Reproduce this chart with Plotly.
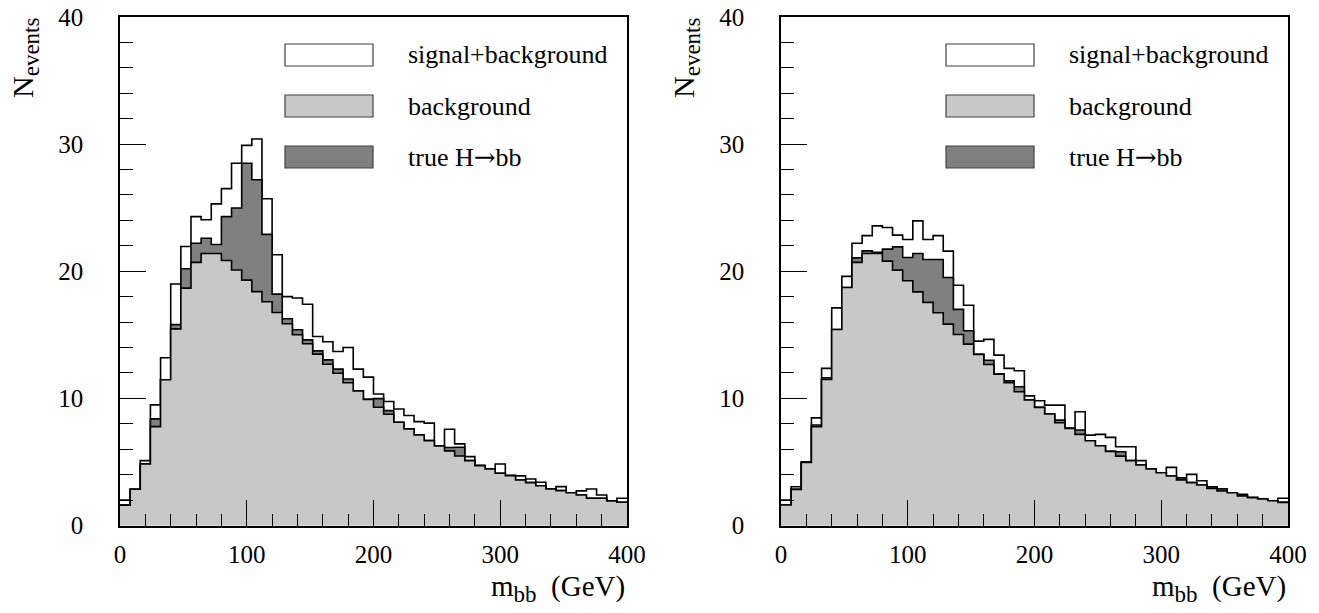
import numpy as np
import plotly.graph_objects as go

# ---------------- data ----------------
bin_width = 8.0          # GeV
n_bins = 50
bin_edges = np.arange(n_bins + 1) * bin_width  # 0 .. 400 GeV

# left panel
left_sig_plus_bkg = [2.0, 2.85, 5.1, 9.49, 13.2, 19.0, 21.95, 24.3, 24.05, 25.3,
                     26.5, 28.5, 29.9, 30.4, 25.7, 21.3, 18.0, 17.9, 17.4, 14.87,
                     14.45, 13.69, 14.0, 12.3, 11.67, 10.35, 9.75, 9.17, 8.65, 8.17,
                     8.05, 6.26, 7.57, 6.42, 5.42, 4.71, 4.45, 4.84, 3.92, 3.9,
                     3.66, 3.4, 2.87, 3.06, 2.58, 2.72, 2.87, 2.4, 1.93, 2.14]
left_bkg_plus_trueH = [1.6, 2.85, 4.84, 8.39, 11.46, 15.8, 20.2, 22.2, 22.6, 22.1,
                       24.3, 24.97, 28.5, 27.2, 22.9, 18.2, 16.26, 15.4, 14.6, 13.74,
                       13.03, 12.3, 11.52, 10.59, 9.92, 9.98, 9.04, 8.12, 7.6, 7.13,
                       6.68, 6.26, 6.13, 6.16, 5.1, 4.71, 4.45, 4.11, 3.92, 3.58,
                       3.37, 3.13, 2.87, 2.74, 2.58, 2.4, 2.14, 2.14, 1.93, 1.83]
left_bkg = [1.6, 2.85, 4.84, 7.78, 11.46, 15.47, 18.67, 20.7, 21.4, 21.4,
            20.85, 20.1, 19.3, 18.4, 17.6, 16.75, 15.87, 15.0, 14.3, 13.48,
            12.69, 11.98, 11.23, 10.59, 9.92, 9.3, 8.75, 8.12, 7.6, 7.13,
            6.68, 6.26, 5.87, 5.47, 5.1, 4.71, 4.45, 4.11, 3.92, 3.58,
            3.37, 3.13, 2.87, 2.74, 2.58, 2.4, 2.14, 2.14, 1.93, 1.83]

# right panel
right_sig_plus_bkg = [2.0, 3.05, 5.02, 8.47, 12.36, 17.12, 19.6, 22.2, 22.8, 23.57,
                      23.44, 22.84, 22.5, 23.96, 22.5, 22.8, 21.58, 18.9, 17.33, 14.5,
                      14.64, 13.4, 12.36, 12.17, 10.2, 9.81, 9.47, 9.47, 7.64, 8.95,
                      7.11, 7.17, 6.93, 6.2, 6.2, 5.1, 4.44, 4.15, 4.57, 3.76,
                      4.02, 3.52, 3.05, 2.87, 2.58, 2.45, 2.19, 2.08, 1.95, 2.14]
right_bkg_plus_trueH = [1.61, 2.84, 4.95, 7.9, 11.62, 15.42, 18.72, 21.05, 21.6, 21.5,
                        21.74, 21.92, 21.08, 21.4, 20.93, 20.93, 19.51, 17.0, 15.32, 13.46,
                        13.0, 11.91, 11.38, 10.91, 9.87, 9.29, 8.77, 8.29, 7.64, 7.51,
                        6.67, 6.27, 5.83, 5.8, 5.1, 4.76, 4.44, 4.15, 3.89, 3.65,
                        3.37, 3.18, 2.92, 2.87, 2.58, 2.32, 2.19, 2.08, 1.95, 1.82]
right_bkg = [1.61, 2.84, 4.95, 7.77, 11.49, 15.42, 18.72, 20.7, 21.4, 21.4,
             20.8, 20.09, 19.25, 18.38, 17.55, 16.73, 15.84, 15.03, 14.27, 13.46,
             12.67, 11.91, 11.23, 10.52, 9.87, 9.29, 8.77, 8.08, 7.64, 7.17,
             6.67, 6.27, 5.83, 5.46, 5.1, 4.76, 4.44, 4.15, 3.89, 3.58,
             3.37, 3.18, 2.92, 2.71, 2.58, 2.32, 2.19, 2.08, 1.95, 1.82]

legend_labels = ["signal+background", "background",
                 "true H<span style='font-family:DejaVu Serif'>\u2192</span>bb"]
x_title = "m<sub><span style='font-size:23px'>bb</span></sub>&nbsp; (GeV)"
y_title = "N<sub><span style='font-size:23px'>events</span></sub>"
x_tick_vals = [0, 100, 200, 300, 400]
y_tick_vals = [0, 10, 20, 30, 40]

# ---------------- style ----------------
W, H = 1319, 613
FONT = "Liberation Serif, Times New Roman, serif"
COL_SB = "white"
COL_BG = "#c8c8c8"
COL_H = "#808080"
fills = [COL_SB, COL_BG, COL_H]


def px_x(p):
    return p / W


def px_y(p):
    return 1 - p / H


panels = [
    dict(left=120, right=627, sb=left_sig_plus_bkg, bgh=left_bkg_plus_trueH, bg=left_bkg),
    dict(left=781, right=1288, sb=right_sig_plus_bkg, bgh=right_bkg_plus_trueH, bg=right_bkg),
]
top_px, bot_px = 17, 525.5

fig = go.Figure()
shapes = []
annotations = []

for i, p in enumerate(panels):
    xa = "x" if i == 0 else "x2"
    ya = "y" if i == 0 else "y2"
    for vals, col in [(p["sb"], COL_SB), (p["bgh"], COL_H), (p["bg"], COL_BG)]:
        yv = list(vals) + [vals[-1]]
        fig.add_trace(go.Scatter(
            x=bin_edges, y=yv, mode="lines", line=dict(shape="hv", color="black", width=1.6),
            fill="tozeroy", fillcolor=col, xaxis=xa, yaxis=ya, showlegend=False,
            hoverinfo="skip"))

    axis_common = dict(showline=True, linecolor="black", linewidth=1.5, mirror=True,
                       ticks="inside", tickcolor="black", tickwidth=1.2, showgrid=False,
                       zeroline=False, automargin=False,
                       tickfont=dict(family=FONT, size=25, color="black"))
    xdict = dict(axis_common, domain=[px_x(p["left"]), px_x(p["right"])], range=[0, 400],
                 tickvals=x_tick_vals, ticklen=26, ticklabelstandoff=6,
                 minor=dict(ticks="inside", ticklen=12, dtick=20, tickwidth=1.2,
                            tickcolor="black", showgrid=False),
                 anchor=ya)
    ydict = dict(axis_common, domain=[px_y(bot_px), px_y(top_px)], range=[0, 40],
                 tickvals=y_tick_vals, ticklen=26, ticklabelstandoff=30,
                 minor=dict(ticks="inside", ticklen=13, dtick=2, tickwidth=1.2,
                            tickcolor="black", showgrid=False),
                 anchor=xa)
    if i == 0:
        fig.update_layout(xaxis=xdict, yaxis=ydict)
    else:
        fig.update_layout(xaxis2=xdict, yaxis2=ydict)

    off = p["left"] - 120
    rows = [(44, 66), (95, 117), (146, 168)]
    for (t, b), lab, col in zip(rows, legend_labels, fills):
        shapes.append(dict(type="rect", xref="paper", yref="paper",
                           x0=px_x(285 + off), x1=px_x(373 + off),
                           y0=px_y(b), y1=px_y(t), fillcolor=col,
                           line=dict(color="#404040", width=1.2)))
        annotations.append(dict(xref="paper", yref="paper", x=px_x(406 + off),
                                y=px_y((t + b) / 2), xanchor="left", yanchor="middle",
                                text=lab, showarrow=False,
                                font=dict(family=FONT, size=26, color="black")))
    annotations.append(dict(xref="paper", yref="paper", x=px_x(p["right"]), y=px_y(568),
                            xanchor="right", yanchor="top", showarrow=False,
                            text=x_title,
                            font=dict(family=FONT, size=29, color="black")))
    annotations.append(dict(xref="paper", yref="paper", x=px_x(25 + off), y=px_y(16),
                            xanchor="center", yanchor="top", showarrow=False, textangle=-90,
                            text=y_title,
                            font=dict(family=FONT, size=30, color="black")))

fig.update_layout(width=W, height=H, margin=dict(l=0, r=0, t=0, b=0),
                  paper_bgcolor="white", plot_bgcolor="white",
                  shapes=shapes, annotations=annotations, showlegend=False)

fig.write_html("out.html")
